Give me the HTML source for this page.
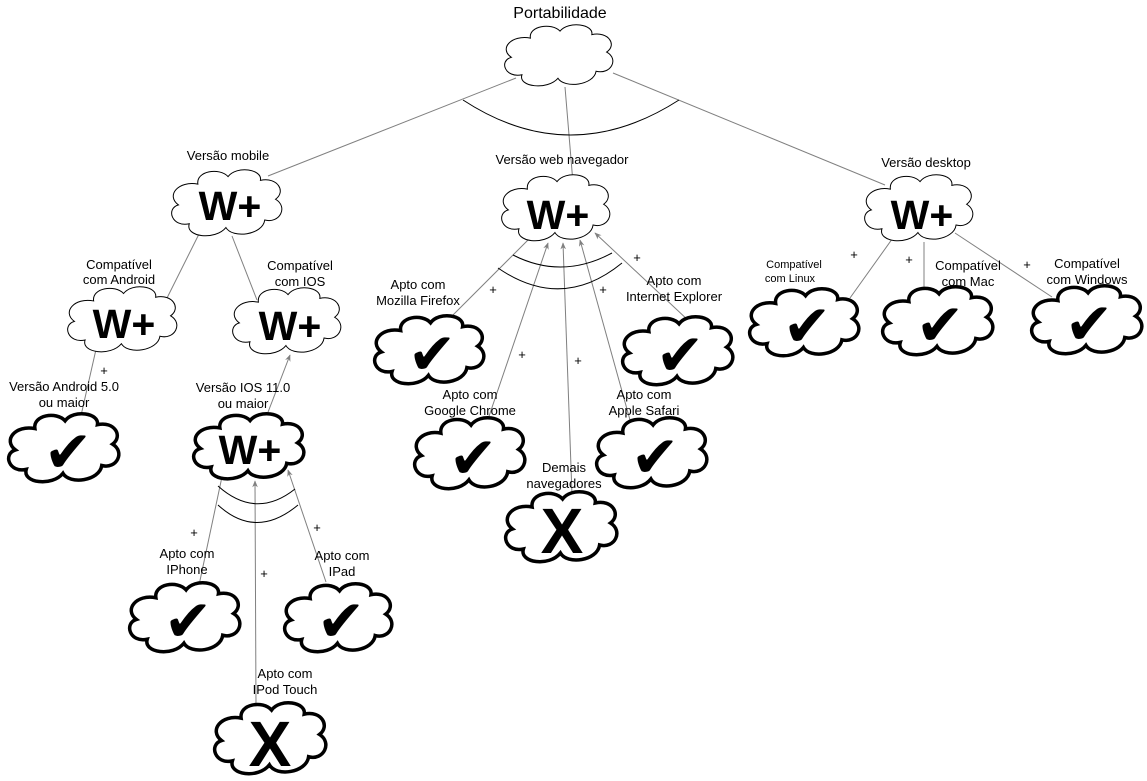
<!DOCTYPE html>
<html><head><meta charset="utf-8"><style>
html,body{margin:0;padding:0;background:#fff}
svg{display:block}
text{font-family:"Liberation Sans","DejaVu Sans",sans-serif;fill:#000}
.l{font-size:13px}
.s{font-size:11px}
.w{font-size:41px;font-weight:bold}
.k{font-family:"DejaVu Sans",sans-serif;font-size:58px}
.x{font-size:64px;font-weight:bold}
.ln{stroke:#808080;stroke-width:1;fill:none}
.arc{stroke:#000;stroke-width:1;fill:none}
</style></head><body>
<svg width="1147" height="781" viewBox="0 0 1147 781" xmlns="http://www.w3.org/2000/svg">
<defs>
<symbol id="c" viewBox="6 5 102 71" preserveAspectRatio="none" overflow="visible">
<path d="M30 20 C28 6 50 2 58 12 C66 0 90 4 88 16 C104 12 112 28 102 36 C114 44 106 62 92 58 C90 74 62 78 56 66 C46 80 18 76 22 62 C6 66 0 46 12 42 C0 32 12 16 30 20 Z" fill="#fff" stroke="#000" stroke-width="1" vector-effect="non-scaling-stroke"/>
</symbol>
<symbol id="ct" viewBox="6 5 102 71" preserveAspectRatio="none" overflow="visible">
<path d="M30 20 C28 6 50 2 58 12 C66 0 90 4 88 16 C104 12 112 28 102 36 C114 44 106 62 92 58 C90 74 62 78 56 66 C46 80 18 76 22 62 C6 66 0 46 12 42 C0 32 12 16 30 20 Z" fill="#fff" stroke="#000" stroke-width="3.5" vector-effect="non-scaling-stroke"/>
</symbol>
<marker id="a" viewBox="0 0 10 10" refX="9" refY="5" markerWidth="7" markerHeight="7" orient="auto"><path d="M0 1 L10 5 L0 9 L3 5 Z" fill="#808080"/></marker>
</defs>

<line class="ln" x1="516" y1="78" x2="268" y2="176"/>
<line class="ln" x1="565" y1="87" x2="573" y2="183"/>
<line class="ln" x1="613" y1="73" x2="885" y2="185"/>
<path class="arc" d="M463 100 Q570 170 679 100"/>
<line class="ln" x1="201" y1="230" x2="165" y2="302"/>
<line class="ln" x1="232" y1="236" x2="257" y2="300"/>
<line class="ln" x1="80" y1="420" x2="97" y2="345" marker-end="url(#a)"/>
<line class="ln" x1="265" y1="420" x2="290" y2="355" marker-end="url(#a)"/>
<line class="ln" x1="198" y1="590" x2="223" y2="472" marker-end="url(#a)"/>
<line class="ln" x1="256" y1="708" x2="255" y2="481" marker-end="url(#a)"/>
<line class="ln" x1="326" y1="582" x2="288" y2="470" marker-end="url(#a)"/>
<path class="arc" d="M218 486 Q256 520 295 489"/>
<path class="arc" d="M218 505 Q256 540 298 505"/>
<line class="ln" x1="443" y1="325" x2="535" y2="233" marker-end="url(#a)"/>
<line class="ln" x1="485" y1="428" x2="548" y2="243" marker-end="url(#a)"/>
<line class="ln" x1="572" y1="495" x2="563" y2="243" marker-end="url(#a)"/>
<line class="ln" x1="630" y1="420" x2="580" y2="240" marker-end="url(#a)"/>
<line class="ln" x1="690" y1="322" x2="595" y2="233" marker-end="url(#a)"/>
<path class="arc" d="M513 255 Q562 280 612 253"/>
<path class="arc" d="M498 268 Q562 312 622 263"/>
<line class="ln" x1="850" y1="298" x2="895" y2="235"/>
<line class="ln" x1="924" y1="288" x2="924" y2="242"/>
<line class="ln" x1="1052" y1="297" x2="955" y2="233"/>

<use href="#c" x="505" y="25" width="108" height="62"/>
<use href="#c" x="172" y="170" width="110" height="67"/>
<use href="#c" x="68" y="287" width="109" height="66"/>
<use href="#c" x="233" y="288" width="108" height="67"/>
<use href="#c" x="502" y="175" width="108" height="67"/>
<use href="#c" x="865" y="175" width="108" height="67"/>
<use href="#ct" x="9" y="414" width="110" height="69"/>
<use href="#ct" x="194" y="414" width="110" height="66"/>
<use href="#ct" x="130" y="583" width="110" height="70"/>
<use href="#ct" x="285" y="584" width="107" height="69"/>
<use href="#ct" x="215" y="703" width="111" height="72"/>
<use href="#ct" x="375" y="316" width="109" height="69"/>
<use href="#ct" x="415" y="418" width="110" height="72"/>
<use href="#ct" x="506" y="492" width="111" height="71"/>
<use href="#ct" x="597" y="418" width="110" height="71"/>
<use href="#ct" x="623" y="317" width="110" height="69"/>
<use href="#ct" x="750" y="289" width="109" height="68"/>
<use href="#ct" x="883" y="287" width="110" height="69"/>
<use href="#ct" x="1032" y="286" width="110" height="69"/>

<g text-anchor="middle">
<text class="w" x="230" y="220">W+</text>
<text class="w" x="124" y="338">W+</text>
<text class="w" x="290" y="340">W+</text>
<text class="w" x="250" y="464">W+</text>
<text class="w" x="558" y="229">W+</text>
<text class="w" x="922" y="229">W+</text>
</g>
<g text-anchor="middle">
<text class="k" x="68" y="472">✔</text>
<text class="k" x="188" y="641">✔</text>
<text class="k" x="341" y="641">✔</text>
<text class="k" x="432" y="374">✔</text>
<text class="k" x="473" y="478">✔</text>
<text class="k" x="655" y="477">✔</text>
<text class="k" x="680" y="375">✔</text>
<text class="k" x="807" y="346">✔</text>
<text class="k" x="940" y="345">✔</text>
<text class="k" x="1089" y="344">✔</text>
<text class="x" x="270" y="766">X</text>
<text class="x" x="562" y="553">X</text>
</g>

<g class="l" text-anchor="middle">
<text x="560" y="18" style="font-size:16px">Portabilidade</text>
<text x="228" y="160">Versão mobile</text>
<text x="119" y="269">Compatível</text><text x="119" y="284">com Android</text>
<text x="300" y="270">Compatível</text><text x="300" y="286">com IOS</text>
<text x="64" y="391">Versão Android 5.0</text><text x="64" y="407">ou maior</text>
<text x="243" y="392">Versão IOS 11.0</text><text x="243" y="408">ou maior</text>
<text x="187" y="558">Apto com</text><text x="187" y="574">IPhone</text>
<text x="342" y="560">Apto com</text><text x="342" y="576">IPad</text>
<text x="285" y="678">Apto com</text><text x="285" y="694">IPod Touch</text>
<text x="562" y="164">Versão web navegador</text>
<text x="418" y="289">Apto com</text><text x="418" y="305">Mozilla Firefox</text>
<text x="470" y="399">Apto com</text><text x="470" y="415">Google Chrome</text>
<text x="564" y="472">Demais</text><text x="564" y="488">navegadores</text>
<text x="644" y="399">Apto com</text><text x="644" y="415">Apple Safari</text>
<text x="674" y="285">Apto com</text><text x="674" y="301">Internet Explorer</text>
<text x="926" y="167">Versão desktop</text>
<text x="968" y="270">Compatível</text><text x="968" y="286">com Mac</text>
<text x="1087" y="268">Compatível</text><text x="1087" y="284">com Windows</text>
<text x="104" y="375">+</text>
<text x="194" y="537">+</text>
<text x="264" y="578">+</text>
<text x="317" y="532">+</text>
<text x="493" y="294">+</text>
<text x="522" y="359">+</text>
<text x="578" y="365">+</text>
<text x="603" y="294">+</text>
<text x="637" y="262">+</text>
<text x="854" y="259">+</text>
<text x="909" y="264">+</text>
<text x="1027" y="269">+</text>
</g>
<g class="s" text-anchor="middle">
<text x="794" y="268">Compatível</text><text x="790" y="282">com Linux</text>
</g>
</svg>
</body></html>
